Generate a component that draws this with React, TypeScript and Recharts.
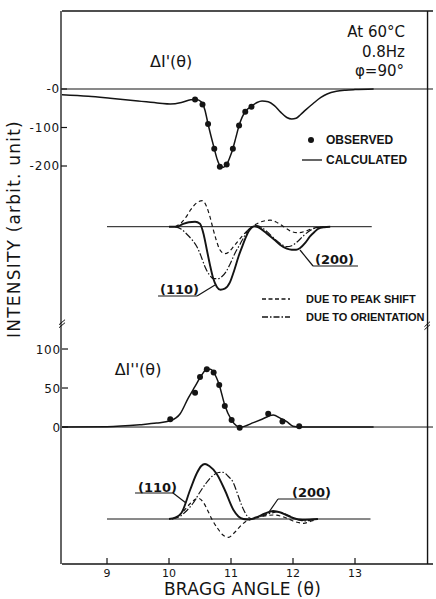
import React from 'react';
import { ComposedChart, Line, Scatter, XAxis, YAxis, ReferenceLine } from 'recharts';

const SANS = '"DejaVu Sans", "Liberation Sans", sans-serif';
const BOLD = '"Liberation Sans", Arial, sans-serif';
const INK = '#141414';

// axes
const thetaDomain: [number, number] = [8.274, 14.258];
const thetaTicks = [9, 10, 11, 12, 13];
const upTicks = [0, -100, -200];
const loTicks = [0, 50, 100];

// ΔI'(θ) – calculated curve and observed points
const upCalcTheta = [8.27, 8.7, 9.05, 9.5, 9.85, 10.02, 10.2, 10.35, 10.44, 10.52, 10.58, 10.63, 10.68, 10.73, 10.78, 10.83, 10.88, 10.93, 10.98, 11.03, 11.08, 11.13, 11.18, 11.23, 11.33, 11.42, 11.5, 11.6, 11.7, 11.8, 11.9, 11.98, 12.05, 12.12, 12.2, 12.33, 12.45, 12.55, 12.7, 12.85, 13.0, 13.3];
const upCalcVal = [-15, -19, -24, -31, -37, -39, -35, -28, -27, -33, -55, -91, -124, -155, -184, -201, -203, -196, -178, -155, -125, -95, -73, -59, -45, -35, -31, -33, -43, -60, -74, -78, -76, -67, -55, -37, -22, -13, -6, -3, -1.5, 0];
const upObsTheta = [10.42, 10.54, 10.63, 10.73, 10.82, 10.93, 11.03, 11.13, 11.23, 11.33];
const upObsVal = [-27, -40, -91, -155, -202, -196, -155, -95, -59, -46];

// ΔI'(θ) components (arbitrary units)
const c1TotalTheta = [10.0, 10.12, 10.22, 10.32, 10.42, 10.5, 10.56, 10.61, 10.66, 10.71, 10.77, 10.83, 10.9, 10.98, 11.05, 11.12, 11.18, 11.23, 11.28, 11.33, 11.38, 11.45, 11.58, 11.7, 11.79, 11.9, 11.98, 12.05, 12.11, 12.2, 12.27, 12.35, 12.41, 12.5, 12.6];
const c1TotalVal = [0, 0, 2.5, 4.5, 5, 3, -8, -23, -38, -51, -60, -63, -62, -56, -44, -30, -20, -12, -5, -1, 0.5, -1, -7, -13, -18, -22, -23, -23, -21.5, -16, -10, -5, -2, -0.5, 0];
const c1ShiftTheta = [10.1, 10.2, 10.28, 10.35, 10.45, 10.54, 10.6, 10.66, 10.71, 10.76, 10.82, 10.9, 10.97, 11.04, 11.12, 11.2, 11.28, 11.36, 11.45, 11.55, 11.63, 11.72, 11.8, 11.9, 11.98, 12.1, 12.2, 12.3, 12.44];
const c1ShiftVal = [0, 4, 10, 17, 24, 26, 21, 10, -2, -13, -23, -27, -25, -20, -14, -8, -3, 1, 4, 6, 6.5, 5, 2, -2, -5, -6, -4.5, -2, 0];
const c1OrientTheta = [10.1, 10.2, 10.28, 10.37, 10.45, 10.52, 10.58, 10.65, 10.72, 10.79, 10.85, 10.92, 10.98, 11.06, 11.15, 11.22, 11.28, 11.35, 11.42, 11.5, 11.6, 11.7, 11.8, 11.9, 11.98, 12.07, 12.17, 12.27, 12.38, 12.5];
const c1OrientVal = [0, -2.5, -7, -13, -20, -30, -40, -48, -52, -52, -50, -45, -38, -27, -17, -9, -3, 0, 1, -1, -6, -12, -17, -20, -19, -15, -9, -4, -1, 0];

// ΔI''(θ) – calculated curve and observed points
const loCalcTheta = [8.27, 9.0, 9.53, 9.8, 10.02, 10.18, 10.31, 10.42, 10.53, 10.61, 10.67, 10.72, 10.81, 10.9, 11.0, 11.09, 11.15, 11.2, 11.36, 11.5, 11.68, 11.8, 11.9, 12.0, 12.1, 13.3];
const loCalcVal = [0, 0.5, 3, 5, 8, 17, 37, 52, 67, 74, 74, 70, 54, 28, 10, 1.5, 0, 0.5, 5.6, 10, 15.4, 11, 6.8, 1, 0, 0];
const loObsTheta = [10.02, 10.42, 10.5, 10.61, 10.72, 10.81, 10.9, 11.01, 11.14, 11.6, 11.83, 12.1];
const loObsVal = [10, 44, 64, 74, 70, 54, 27, 9, -1, 17, 7, 1];

// ΔI''(θ) components (arbitrary units)
const c2TotalTheta = [10.0, 10.1, 10.2, 10.34, 10.45, 10.52, 10.58, 10.65, 10.77, 10.9, 11.04, 11.12, 11.2, 11.3, 11.4, 11.55, 11.68, 11.8, 11.92, 12.0, 12.15, 12.3, 12.4];
const c2TotalVal = [0, 1.5, 6, 29, 46, 53, 55, 53, 45, 29, 9, 2.5, 0, -0.5, 1.5, 5.5, 8, 6.5, 3, 1, -1, -0.5, 0];
const c2ShiftTheta = [10.05, 10.15, 10.25, 10.35, 10.47, 10.55, 10.62, 10.69, 10.78, 10.87, 10.96, 11.05, 11.17, 11.25, 11.33, 11.5, 11.68, 11.85, 12.0, 12.17, 12.3, 12.4];
const c2ShiftVal = [0, 3, 9, 16, 20.7, 17, 9, 0, -9, -16, -18.3, -14, -6, -2, 0, 2.5, 4, 2, -2, -4.3, -2, 0];
const c2OrientTheta = [10.05, 10.16, 10.28, 10.39, 10.5, 10.6, 10.7, 10.8, 10.87, 10.95, 11.04, 11.1, 11.17, 11.23, 11.28, 11.35, 11.5, 11.65, 11.75, 11.88, 12.0, 12.1, 12.19, 12.3, 12.4];
const c2OrientVal = [0, 2, 8, 16, 27, 36, 43, 46.5, 46.7, 43, 36, 26, 14, 6, 1.7, 0, 3, 6, 7, 5, 1.5, -1, -2, -1, 0];

const zip = (t: number[], v: number[]) => t.map((x, i) => ({ t: x, v: v[i] }));

const upCalc = zip(upCalcTheta, upCalcVal);
const upObs = zip(upObsTheta, upObsVal);
const c1Total = zip(c1TotalTheta, c1TotalVal);
const c1Shift = zip(c1ShiftTheta, c1ShiftVal);
const c1Orient = zip(c1OrientTheta, c1OrientVal);
const loCalc = zip(loCalcTheta, loCalcVal);
const loObs = zip(loObsTheta, loObsVal);
const c2Total = zip(c2TotalTheta, c2TotalVal);
const c2Shift = zip(c2ShiftTheta, c2ShiftVal);
const c2Orient = zip(c2OrientTheta, c2OrientVal);

const DASH = '4 3';
const DASHDOT = '7 2 1.5 2';

const LeftTick = (props: any) => {
  const { x, y, payload, fmt } = props;
  return (
    <g>
      <line x1={x} y1={y} x2={x + 6} y2={y} stroke={INK} strokeWidth={1.2} />
      <text x={x - 1} y={y} dy={4.5} textAnchor="end" fontSize={12} letterSpacing={0.8} fontFamily={SANS} fill={INK}>
        {fmt(payload.value)}
      </text>
    </g>
  );
};

const BottomTick = (props: any) => {
  const { x, y, payload } = props;
  return (
    <g>
      <line x1={x} y1={y} x2={x} y2={y - 6} stroke={INK} strokeWidth={1.2} />
      <text x={x} y={y} dy={12.5} textAnchor="middle" fontSize={11} fontFamily={SANS} fill={INK}>
        {payload.value}
      </text>
    </g>
  );
};

const YTitle = (props: any) => {
  const vb = props.viewBox || { x: 61, y: 11 };
  const cx = vb.x - 40;
  const cy = vb.y + 218;
  return (
    <text x={cx} y={cy} transform={`rotate(-90 ${cx} ${cy})`} textAnchor="middle" fontSize={17} letterSpacing={1.2} fontFamily={SANS} fill={INK}>
      INTENSITY (arbit. unit)
    </text>
  );
};

const XTitle = (props: any) => {
  const vb = props.viewBox || { x: 62, y: 564 };
  return (
    <text x={vb.x + 180.5} y={vb.y + 31} textAnchor="middle" fontSize={17} letterSpacing={0.3} fontFamily={SANS} fill={INK}>
      BRAGG ANGLE (θ)
    </text>
  );
};

// free text placed in page pixels (chart starts at the page corner)
const Note = ({ x, y, size = 15, anchor = 'start', weight = 400, family = SANS, children }: any) => (
  <div
    style={{
      position: 'absolute',
      left: x,
      top: y,
      transform: `translate(${anchor === 'end' ? '-100%' : anchor === 'middle' ? '-50%' : '0'}, -50%)`,
      fontSize: size,
      fontWeight: weight,
      fontFamily: family,
      lineHeight: 1,
      whiteSpace: 'nowrap',
      color: INK,
    }}
  >
    {children}
  </div>
);

const Sample = ({ x, y, w, dash, dot }: any) => (
  <svg style={{ position: 'absolute', left: x, top: y - 5 }} width={w} height={10}>
    {dot ? (
      <circle cx={w / 2} cy={5} r={3} fill={INK} />
    ) : (
      <line x1={0} y1={5} x2={w} y2={5} stroke={INK} strokeWidth={1.3} strokeDasharray={dash} />
    )}
  </svg>
);

const dotShape = (p: any) => <circle cx={p.cx} cy={p.cy} r={3} fill={INK} />;

export default function App() {
  return (
    <div style={{ position: 'relative', width: 436, height: 599, overflow: 'hidden' }}>
      <style>{'html,body{margin:0;padding:0;overflow:hidden;background:#fff}'}</style>
      <ComposedChart width={436} height={599} margin={{ top: 10, right: 3, bottom: 0, left: 60 }}>
        <XAxis
          type="number"
          dataKey="t"
          domain={thetaDomain}
          allowDataOverflow
          ticks={thetaTicks}
          interval={0}
          height={35}
          tickSize={0}
          tickMargin={0}
          tickLine={false}
          axisLine={{ stroke: INK, strokeWidth: 1.3 }}
          tick={<BottomTick />}
          label={<XTitle />}
        />
        <XAxis xAxisId="top" orientation="top" type="number" dataKey="t" domain={thetaDomain} allowDataOverflow height={1} tick={false} tickLine={false} axisLine={{ stroke: INK, strokeWidth: 1.3 }} />
        <YAxis yAxisId="c1" type="number" dataKey="v" domain={[-337.3, 215.7]} allowDataOverflow hide width={0} />
        <YAxis yAxisId="c2" type="number" dataKey="v" domain={[-45, 508]} allowDataOverflow hide width={0} />
        <YAxis
          yAxisId="up"
          type="number"
          dataKey="v"
          domain={[-1233.8, 202.6]}
          allowDataOverflow
          ticks={upTicks}
          interval={0}
          width={1}
          tickSize={0}
          tickMargin={0}
          tickLine={false}
          axisLine={{ stroke: INK, strokeWidth: 1.3 }}
          tick={<LeftTick fmt={(v: number) => (v === 0 ? '-0' : String(v))} />}
          label={<YTitle />}
        />
        <YAxis
          yAxisId="lo"
          type="number"
          dataKey="v"
          domain={[-175.6, 533.3]}
          allowDataOverflow
          ticks={loTicks}
          interval={0}
          width={1}
          tickSize={0}
          tickMargin={0}
          tickLine={false}
          axisLine={false}
          tick={<LeftTick fmt={(v: number) => String(v)} />}
        />

        {/* right frame edge (kept a few px inside the window edge so it stays visible) */}
        <ReferenceLine yAxisId="c1" x={14.17} stroke={INK} strokeWidth={1.4} ifOverflow="visible" />

        {/* zero lines and component baselines */}
        <ReferenceLine yAxisId="up" y={0} stroke={INK} strokeWidth={1.1} />
        <ReferenceLine yAxisId="lo" y={0} stroke={INK} strokeWidth={1} />
        <ReferenceLine yAxisId="c1" segment={[{ x: 9.0, y: 0 }, { x: 13.27, y: 0 }]} stroke={INK} strokeWidth={1} />
        <ReferenceLine yAxisId="c2" segment={[{ x: 9.0, y: 0 }, { x: 13.25, y: 0 }]} stroke={INK} strokeWidth={1} />

        {/* axis breaks */}
        <ReferenceLine yAxisId="c1" segment={[{ x: 8.226, y: -98 }, { x: 8.323, y: -93 }]} stroke={INK} strokeWidth={1} ifOverflow="visible" />
        <ReferenceLine yAxisId="c1" segment={[{ x: 8.226, y: -101 }, { x: 8.323, y: -96 }]} stroke={INK} strokeWidth={1} ifOverflow="visible" />
        <ReferenceLine yAxisId="c1" segment={[{ x: 14.12, y: -100 }, { x: 14.21, y: -95 }]} stroke={INK} strokeWidth={1} ifOverflow="visible" />
        <ReferenceLine yAxisId="c1" segment={[{ x: 14.12, y: -103 }, { x: 14.21, y: -98 }]} stroke={INK} strokeWidth={1} ifOverflow="visible" />

        {/* leader lines for (110) / (200) */}
        <ReferenceLine yAxisId="c1" segment={[{ x: 9.823, y: -69.3 }, { x: 10.452, y: -69.3 }]} stroke={INK} strokeWidth={1.2} />
        <ReferenceLine yAxisId="c1" segment={[{ x: 10.452, y: -69.3 }, { x: 10.742, y: -58.3 }]} stroke={INK} strokeWidth={1.2} />
        <ReferenceLine yAxisId="c1" segment={[{ x: 12.323, y: -39.3 }, { x: 13.048, y: -39.3 }]} stroke={INK} strokeWidth={1.2} />
        <ReferenceLine yAxisId="c1" segment={[{ x: 12.323, y: -39.3 }, { x: 12.113, y: -23.3 }]} stroke={INK} strokeWidth={1.2} />
        <ReferenceLine yAxisId="c2" segment={[{ x: 9.452, y: 26 }, { x: 10.065, y: 26 }]} stroke={INK} strokeWidth={1.2} />
        <ReferenceLine yAxisId="c2" segment={[{ x: 10.065, y: 26 }, { x: 10.274, y: 16 }]} stroke={INK} strokeWidth={1.2} />
        <ReferenceLine yAxisId="c2" segment={[{ x: 11.758, y: 20 }, { x: 12.565, y: 20 }]} stroke={INK} strokeWidth={1.2} />
        <ReferenceLine yAxisId="c2" segment={[{ x: 11.758, y: 20 }, { x: 11.613, y: 7 }]} stroke={INK} strokeWidth={1.2} />

        <Line yAxisId="up" data={upCalc} dataKey="v" type="monotone" stroke={INK} strokeWidth={1.5} dot={false} isAnimationActive={false} />
        <Scatter yAxisId="up" data={upObs} dataKey="v" shape={dotShape} isAnimationActive={false} />

        <Line yAxisId="c1" data={c1Shift} dataKey="v" type="monotone" stroke={INK} strokeWidth={1.2} strokeDasharray={DASH} dot={false} isAnimationActive={false} />
        <Line yAxisId="c1" data={c1Orient} dataKey="v" type="monotone" stroke={INK} strokeWidth={1.2} strokeDasharray={DASHDOT} dot={false} isAnimationActive={false} />
        <Line yAxisId="c1" data={c1Total} dataKey="v" type="monotone" stroke={INK} strokeWidth={1.9} dot={false} isAnimationActive={false} />

        <Line yAxisId="lo" data={loCalc} dataKey="v" type="monotone" stroke={INK} strokeWidth={1.5} dot={false} isAnimationActive={false} />
        <Scatter yAxisId="lo" data={loObs} dataKey="v" shape={dotShape} isAnimationActive={false} />

        <Line yAxisId="c2" data={c2Shift} dataKey="v" type="monotone" stroke={INK} strokeWidth={1.2} strokeDasharray={DASH} dot={false} isAnimationActive={false} />
        <Line yAxisId="c2" data={c2Orient} dataKey="v" type="monotone" stroke={INK} strokeWidth={1.2} strokeDasharray={DASHDOT} dot={false} isAnimationActive={false} />
        <Line yAxisId="c2" data={c2Total} dataKey="v" type="monotone" stroke={INK} strokeWidth={1.9} dot={false} isAnimationActive={false} />
      </ComposedChart>

      {/* panel annotations */}
      <Note x={150} y={62} size={16}>ΔI'(θ)</Note>
      <Note x={405} y={32} size={15} anchor="end">At 60°C</Note>
      <Note x={405} y={52} size={15} anchor="end">0.8Hz</Note>
      <Note x={404} y={71} size={15} anchor="end">φ=90°</Note>
      <Note x={138} y={370} size={16} anchor="middle">ΔI''(θ)</Note>

      {/* legends */}
      <Sample x={306} y={140} w={10} dot />
      <Note x={326} y={140} size={12} weight={700} family={BOLD}>OBSERVED</Note>
      <Sample x={302} y={160} w={20} />
      <Note x={326} y={160} size={12} weight={700} family={BOLD}>CALCULATED</Note>
      <Sample x={262} y={299} w={28} dash="4 2.5" />
      <Note x={306} y={299} size={11} weight={700} family={BOLD}>DUE TO PEAK SHIFT</Note>
      <Sample x={262} y={317} w={28} dash="6 2 1.5 2" />
      <Note x={306} y={317} size={11} weight={700} family={BOLD}>DUE TO ORIENTATION</Note>

      {/* reflection labels */}
      <Note x={160} y={289} size={13} weight={700} family={SANS}>(110)</Note>
      <Note x={315} y={259} size={13} weight={700} family={SANS}>(200)</Note>
      <Note x={138} y={487} size={13} weight={700} family={SANS}>(110)</Note>
      <Note x={292} y={492} size={13} weight={700} family={SANS}>(200)</Note>
    </div>
  );
}
